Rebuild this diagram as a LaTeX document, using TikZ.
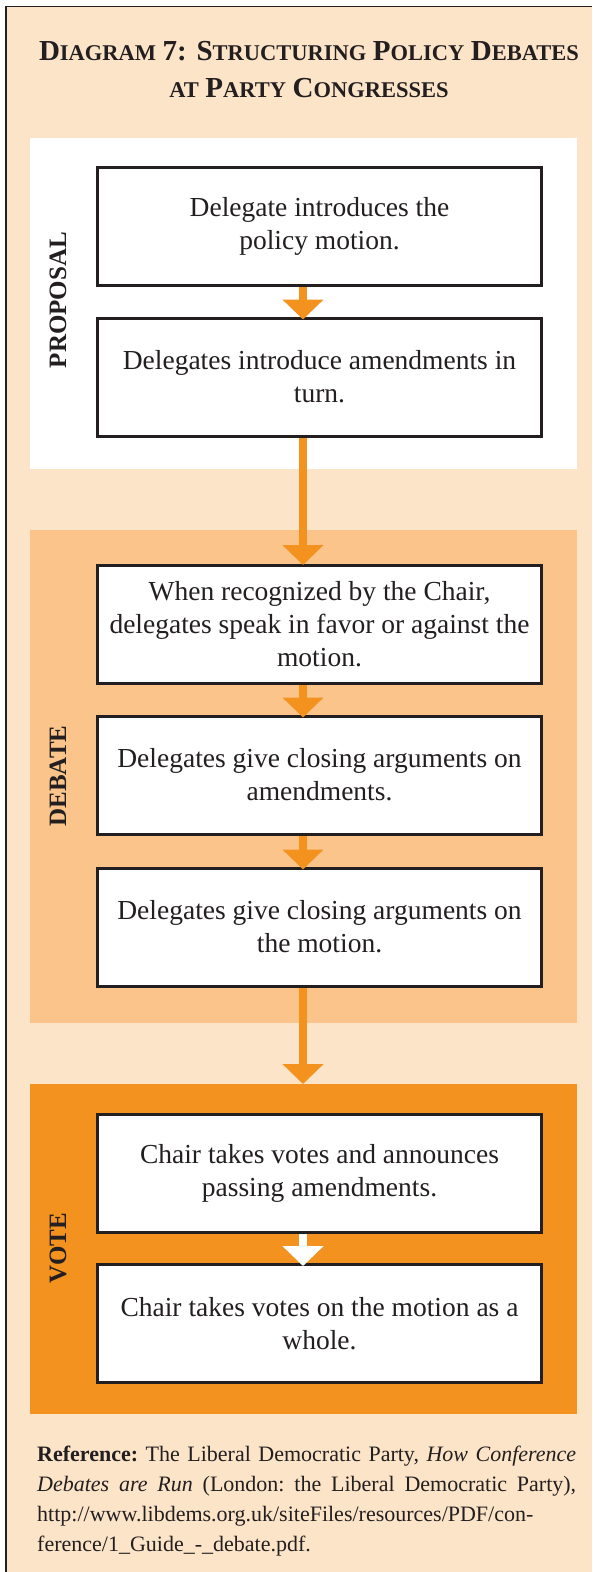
\documentclass[tikz,border=0pt]{standalone}
\usepackage{fontspec}
\setmainfont{Liberation Serif}
\usetikzlibrary{arrows.meta}
\definecolor{peach}{HTML}{FCE4C8}
\definecolor{lightorange}{HTML}{FAC48A}
\definecolor{deeporange}{HTML}{F3921F}
\definecolor{ink}{HTML}{231F20}
% fake small caps: large initial, smaller remainder
\newcommand{\capL}[1]{{\fontsize{29}{29}\selectfont #1}}
\newcommand{\capS}[1]{{\fontsize{22.5}{22.5}\selectfont #1}}
\tikzset{
  stepbox/.style={draw=ink, line width=3pt, fill=white, minimum width=444pt,
    minimum height=118pt, align=center, text=ink, inner sep=0pt,
    font=\fontsize{27.5}{33}\selectfont},
  phase/.style={rotate=90, text=ink, font=\bfseries\fontsize{25}{25}\selectfont},
  flow/.style={deeporange, line width=8pt, -{Triangle[width=40pt,length=20pt]}},
  flowwhite/.style={white, line width=8pt, -{Triangle[width=40pt,length=20pt]}},
}
\begin{document}
\begin{tikzpicture}[x=1pt,y=-1pt]
\useasboundingbox (0,0) rectangle (592,1572);
% page background and frame
\fill[white] (0,0) rectangle (592,1572);
\fill[peach] (6,6) rectangle (592,1572);
\draw[ink, line width=1.5pt] (6,1572) -- (6,6.5) -- (592,6.5);

% title
\node[text=ink, font=\bfseries\fontsize{26}{37}\selectfont, align=center] (title) at (309,70)
  {\capL{D}\capS{IAGRAM} \capL{7: S}\capS{TRUCTURING} \capL{P}\capS{OLICY} \capL{D}\capS{EBATES}\\
   \capS{AT} \capL{P}\capS{ARTY} \capL{C}\capS{ONGRESSES}};

% phase panels
\fill[white] (30,138) rectangle (577,469);
\fill[lightorange] (30,530) rectangle (577,1023);
\fill[deeporange] (30,1084) rectangle (577,1414);

\node[phase] (pproposal) at (58,300) {PROPOSAL};
\node[phase] (pdebate) at (58,776) {DEBATE};
\node[phase] (pvote) at (58,1248) {VOTE};

% steps
\node[stepbox] (b1) at (319.5,226.5) {Delegate introduces the\\policy motion.};
\node[stepbox] (b2) at (319.5,377) {Delegates introduce amendments in\\turn.};
\node[stepbox] (b3) at (319.5,624.5) {When recognized by the Chair,\\delegates speak in favor or against the\\motion.};
\node[stepbox] (b4) at (319.5,775) {Delegates give closing arguments on\\amendments.};
\node[stepbox] (b5) at (319.5,927) {Delegates give closing arguments on\\the motion.};
\node[stepbox] (b6) at (319.5,1173) {Chair takes votes and announces\\passing amendments.};
\node[stepbox] (b7) at (319.5,1323.5) {Chair takes votes on the motion as a\\whole.};

% flow arrows along the panels' centre line
\coordinate (ax) at (303,0);
\coordinate (votetop) at (303,1084);
\draw[flow] (b1.south -| ax) -- ([yshift=-3pt]b2.north -| ax);
\draw[flow] (b2.south -| ax) -- ([yshift=-1pt]b3.north -| ax);
\draw[flow] (b3.south -| ax) -- ([yshift=-3pt]b4.north -| ax);
\draw[flow] (b4.south -| ax) -- ([yshift=-3pt]b5.north -| ax);
\draw[flow] (b5.south -| ax) -- (votetop);
\draw[flowwhite] (b6.south -| ax) -- ([yshift=-3pt]b7.north -| ax);

% source note
\node[text=ink, text width=539pt, align=justify, anchor=north west, inner sep=0pt,
  font=\frenchspacing\fontsize{22}{29.8}\selectfont] (note) at (37,1446)
  {\textbf{Reference:} The Liberal Democratic Party, \textit{How Conference}\linebreak
   \textit{Debates are Run} (London: the Liberal Democratic Party),\linebreak
   http://www.libdems.org.uk/siteFiles/resources/PDF/con-\linebreak
   ference/1\_Guide\_-\_debate.pdf.};
\end{tikzpicture}
\end{document}
